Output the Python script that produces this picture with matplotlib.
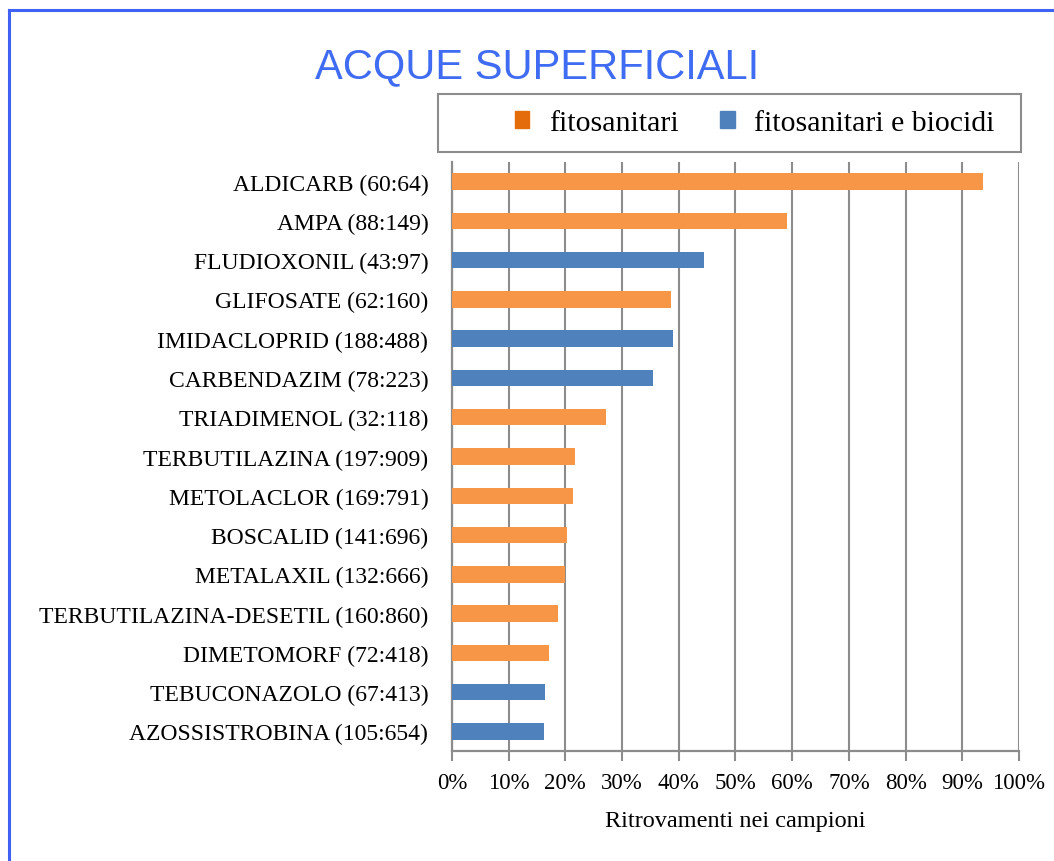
import matplotlib.pyplot as plt
from matplotlib.patches import Patch, Rectangle
from matplotlib.lines import Line2D

# data (share of samples with detections, %)
labels = ["ALDICARB (60:64)", "AMPA (88:149)", "FLUDIOXONIL (43:97)", "GLIFOSATE (62:160)",
          "IMIDACLOPRID (188:488)", "CARBENDAZIM (78:223)", "TRIADIMENOL (32:118)",
          "TERBUTILAZINA (197:909)", "METOLACLOR (169:791)", "BOSCALID (141:696)",
          "METALAXIL (132:666)", "TERBUTILAZINA-DESETIL (160:860)", "DIMETOMORF (72:418)",
          "TEBUCONAZOLO (67:413)", "AZOSSISTROBINA (105:654)"]
values = [93.6, 59.1, 44.5, 38.6, 38.9, 35.4, 27.1, 21.7, 21.4, 20.3, 19.9, 18.7, 17.2, 16.4, 16.3]
groups = ["f", "f", "b", "f", "b", "b", "f", "f", "f", "f", "f", "f", "f", "b", "b"]
xticks = [0, 10, 20, 30, 40, 50, 60, 70, 80, 90, 100]

orange = "#F79646"
blue = "#4F81BD"
gray = "#8C8C8C"
serif = "Liberation Serif"

fig = plt.figure(figsize=(10.54, 8.62), dpi=100)
ax = fig.add_axes([0.4288, 0.1276, 0.538, 0.6833])

ypos = list(range(len(labels)))
colors = [orange if g == "f" else blue for g in groups]
ax.barh(ypos, values, height=0.42, color=colors, zorder=3)

ax.set_ylim(len(labels) - 0.5, -0.5)
ax.set_xlim(0, 100)
ax.set_yticks(ypos)
ax.set_yticklabels(labels, fontsize=17, fontfamily=serif)
ax.set_xticks(xticks)
ax.set_xticklabels([f"{t}%" for t in xticks], fontsize=16.5, fontfamily=serif)
ax.tick_params(axis="y", length=0, pad=17)
ax.tick_params(axis="x", length=7, width=1.5, color=gray, pad=8)

ax.grid(axis="x", color=gray, linewidth=1.5, zorder=0)
for s in ["top", "right"]:
    ax.spines[s].set_visible(False)
for s in ["left", "bottom"]:
    ax.spines[s].set_color(gray)
    ax.spines[s].set_linewidth(1.6)

ax.set_xlabel("Ritrovamenti nei campioni", fontsize=17.5, fontfamily=serif, labelpad=12)

# title
fig.text(0.5095, 1 - 78 / 862, "ACQUE SUPERFICIALI", ha="center", va="baseline",
         fontsize=30, color="#3F6CF2", fontfamily="Liberation Sans")

# legend box + entries
fig.add_artist(Rectangle((438 / 1054, 1 - 153 / 862), 583 / 1054, 58 / 862,
                         transform=fig.transFigure, fill=False, edgecolor=gray, linewidth=1.5))
handles = [Patch(color="#E46C0A"), Patch(color=blue)]
fig.legend(handles, ["fitosanitari", "fitosanitari e biocidi"], ncol=2, frameon=False,
           loc="center left", bbox_to_anchor=(515 / 1054, 1 - 124 / 862),
           borderpad=0, borderaxespad=0, handlelength=0.48, handleheight=0.48,
           handletextpad=0.65, columnspacing=1.4,
           prop={"family": serif, "size": 21.5})

# blue frame (top and left edges)
fig.add_artist(Line2D([9 / 1054, 9 / 1054], [0, 1 - 11 / 862], transform=fig.transFigure,
                      color="#3F62F5", linewidth=2.2))
fig.add_artist(Line2D([9 / 1054, 1], [1 - 11 / 862, 1 - 11 / 862], transform=fig.transFigure,
                      color="#3F62F5", linewidth=2.2))

fig.savefig("out.png", dpi=100)
